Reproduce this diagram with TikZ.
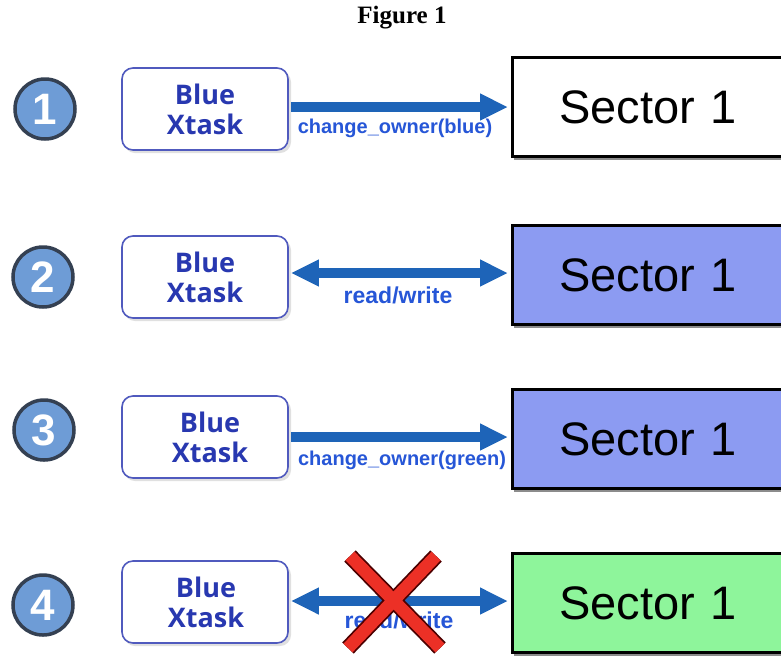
\documentclass[tikz,border=0pt]{standalone}
\usepackage{fontspec}
\setmainfont{Liberation Serif}
\newfontfamily\arialfont{Liberation Sans}
\newfontfamily\opensans{Open Sans}
\usetikzlibrary{arrows.meta}
\definecolor{stepfill}{RGB}{110,156,214}
\definecolor{stepedge}{RGB}{52,64,82}
\definecolor{taskedge}{RGB}{80,90,190}
\definecolor{tasktext}{RGB}{40,56,176}
\definecolor{arrowblue}{RGB}{30,100,184}
\definecolor{labelblue}{RGB}{38,86,215}
\definecolor{ownblue}{RGB}{140,155,242}
\definecolor{owngreen}{RGB}{142,245,155}
\definecolor{crossred}{RGB}{236,48,38}
\tikzset{
  stepnum/.style={circle, minimum size=60pt, inner sep=0pt, fill=stepfill, draw=stepedge, line width=3.5pt,
    text=white, font=\arialfont\bfseries\fontsize{44}{44}\selectfont},
  taskbox/.style={rectangle, rounded corners=11pt, minimum width=166pt, minimum height=82pt,
    text width=146pt, draw=taskedge, line width=1.6pt, fill=white, text=tasktext, align=center,
    font=\opensans\bfseries\fontsize{27}{30}\selectfont},
  sectorbox/.style={rectangle, minimum width=300pt, minimum height=99pt, anchor=west,
    draw=black, line width=2.8pt, text width=276pt, align=left,
    font=\arialfont\fontsize{47}{47}\selectfont},
  fatarrow/.style={draw=arrowblue, line width=10pt, shorten <=2pt, shorten >=3pt},
  onetip/.style={fatarrow, -{Triangle[length=28pt,width=25pt]}},
  twotips/.style={fatarrow, {Triangle[length=28pt,width=25pt]}-{Triangle[length=28pt,width=25pt]}},
  oplabel/.style={text=labelblue, font=\arialfont\bfseries\fontsize{20}{20}\selectfont, inner sep=0pt},
  rwlabel/.style={oplabel, font=\arialfont\bfseries\fontsize{23}{23}\selectfont},
}
\begin{document}
\begin{tikzpicture}[x=1pt,y=-1pt]
  \useasboundingbox (0,0) rectangle (781,657);
  \clip (0,0) rectangle (781,657);
  \fill[white] (0,0) rectangle (781,657);

  \node[font=\bfseries\fontsize{25}{25}\selectfont] (title) at (402,18) {Figure 1};

  % step numbers
  \node[stepnum] (n1) at (45,109) {1};
  \node[stepnum] (n2) at (43,277) {2};
  \node[stepnum] (n3) at (44,430) {3};
  \node[stepnum] (n4) at (43,605) {4};

  % task boxes with a soft shadow; \ind nudges the text to the right
  \foreach \y/\ind/\nm in {109/0/t1, 277/0/t2, 437/10/t3, 602/2/t4}{
    \fill[black!12, rounded corners=11pt] (124,\y-38) rectangle (291,\y+44);
    \node[taskbox] (\nm) at (205,\y) {\hspace*{\ind pt}Blue\\\hspace*{\ind pt}Xtask};
  }

  % sector boxes with a dark shadow
  \foreach \y/\nm/\col in {107/s1/white, 275/s2/ownblue, 439/s3/ownblue, 603/s4/owngreen}{
    \fill[black!45] (514,\y-46) rectangle (800,\y+53);
    \node[sectorbox, fill=\col] (\nm) at (511,\y) {\hspace*{35pt}Sector 1};
  }

  % operations
  \draw[onetip] (t1.east |- 0,107) -- (s1.west |- 0,107);
  \node[oplabel] (l1) at (395,128) {change\_owner(blue)};

  \draw[twotips] (t2.east |- 0,273) -- (s2.west |- 0,273);
  \node[rwlabel] (l2) at (398,295) {read/write};

  \draw[onetip] (t3.east |- 0,437) -- (s3.west |- 0,437);
  \node[oplabel] (l3) at (402,460) {change\_owner(green)};

  \draw[twotips] (t4.east |- 0,601) -- (s4.west |- 0,601);
  \node[rwlabel] (l4) at (399,620) {read/write};

  % forbidden access
  \coordinate (xa) at (350,556);
  \coordinate (xb) at (440,648);
  \coordinate (xc) at (436,556);
  \coordinate (xd) at (348,648);
  \draw[line width=16pt, black!70!red] (xa) -- (xb) (xc) -- (xd);
  \draw[line width=12.5pt, crossred] (xa) -- (xb) (xc) -- (xd);
\end{tikzpicture}
\end{document}
